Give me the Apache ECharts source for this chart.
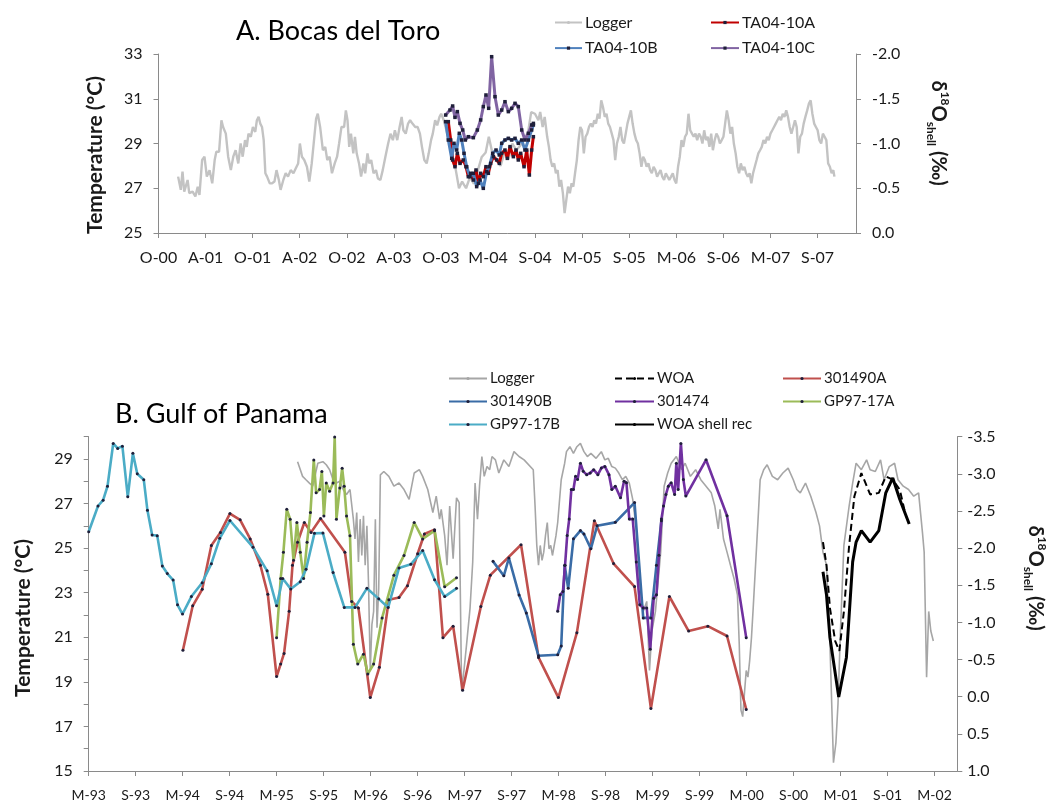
<!DOCTYPE html>
<html>
<head>
<meta charset="utf-8">
<title>Bocas del Toro / Gulf of Panama</title>
<script src="https://cdn.jsdelivr.net/npm/echarts@6/dist/echarts.min.js"></script>
<style>
  html, body { margin: 0; padding: 0; background: #fff; }
  #chart { width: 1047px; height: 802px; }
</style>
</head>
<body>
<div id="chart"></div>
<script>
// ---------- Panel A: Bocas del Toro ----------
// x values are months since Oct 2000; logger in °C, shells in ‰ (right axis)
const labelsA = ['O-00','A-01','O-01','A-02','O-02','A-03','O-03','M-04','S-04','M-05','S-05','M-06','S-06','M-07','S-07'];

const loggerA = [
  [2.5,27.52],[2.84,26.93],[3.06,27.74],[3.28,26.85],[3.71,27.37],[3.92,26.78],[4.35,26.85],[4.7,26.63],[5.0,27.07],[5.22,26.7],
  [5.56,28.26],[5.86,28.41],[6.16,27.52],[6.51,27.81],[6.85,27.22],[7.16,28.26],[7.37,28.63],[7.72,28.63],[8.02,30.04],[8.23,29.74],
  [8.58,29.44],[8.88,28.41],[9.22,27.81],[9.53,28.41],[9.83,28.7],[10.17,28.11],[10.47,29.0],[10.73,28.41],[11.03,29.15],[11.25,28.85],
  [11.47,29.44],[11.77,29.3],[12.03,29.74],[12.33,29.52],[12.54,30.04],[12.76,30.19],[12.97,29.89],[13.19,29.74],[13.41,29.15],[13.62,27.67],
  [13.84,27.52],[14.18,27.22],[14.48,27.22],[14.78,27.3],[15.04,27.81],[15.34,27.37],[15.56,26.93],[15.91,27.37],[16.21,27.67],[16.51,27.52],
  [16.85,27.81],[17.2,27.67],[17.5,27.89],[17.8,28.11],[18.02,29.0],[18.28,28.41],[18.58,28.26],[18.92,27.96],[19.22,27.3],[19.53,28.11],
  [19.78,29.0],[20.09,30.11],[20.3,30.33],[20.6,29.74],[20.95,28.7],[21.25,28.85],[21.51,28.26],[21.81,28.41],[22.11,27.67],[22.46,28.11],
  [22.76,28.41],[23.02,29.0],[23.32,29.74],[23.66,29.74],[23.88,30.48],[24.09,30.04],[24.31,28.85],[24.53,29.44],[24.83,28.56],[25.04,29.3],
  [25.26,28.56],[25.56,28.11],[25.82,27.52],[26.12,28.11],[26.34,27.67],[26.64,28.56],[26.85,28.11],[27.11,28.26],[27.41,27.67],[27.72,27.81],
  [27.97,27.44],[28.28,27.37],[28.58,27.81],[28.92,28.41],[29.27,29.0],[29.57,29.44],[29.87,29.15],[30.13,29.59],[30.43,29.15],[30.73,29.74],
  [30.99,30.19],[31.21,29.59],[31.51,29.44],[31.81,29.89],[32.07,30.04],[32.37,29.89],[32.72,29.74],[33.02,29.74],[33.32,29.44],[33.58,28.85],
  [33.88,28.26],[34.18,28.11],[34.44,28.56],[34.74,29.15],[34.96,29.44],[35.26,30.04],[35.52,29.81],[35.82,30.19],[36.03,30.33],[36.4,30.0],
  [36.9,29.3],[37.4,28.6],[37.9,27.8],[38.3,27.0],[38.7,27.3],[39.2,27.0],[39.7,27.5],[40.2,27.2],[40.7,27.8],[41.2,28.4],
  [41.7,28.6],[42.1,29.3],[42.6,28.5],[43.1,28.3],[43.6,28.0],[44.1,28.6],[44.6,28.3],[45.1,29.0],[45.6,28.7],[46.1,28.9],
  [46.6,29.2],[47.1,29.5],[47.5,30.4],[47.98,30.33],[48.42,30.04],[48.65,30.41],[48.96,29.74],[49.22,30.19],[49.54,29.3],[49.76,28.85],
  [49.98,28.26],[50.2,27.96],[50.43,28.11],[50.65,27.67],[50.87,27.81],[51.09,27.07],[51.31,27.37],[51.54,26.78],[51.76,25.89],[51.98,26.48],
  [52.2,27.07],[52.43,26.78],[52.65,27.22],[52.87,27.07],[53.09,27.67],[53.32,28.26],[53.54,29.15],[53.76,29.74],[53.98,29.59],[54.21,28.56],
  [54.43,29.3],[54.65,29.44],[54.87,29.74],[55.1,29.89],[55.32,29.74],[55.54,30.04],[55.76,29.89],[55.99,30.33],[56.21,30.11],[56.43,30.93],
  [56.65,30.63],[56.88,30.19],[57.1,30.33],[57.32,29.89],[57.54,29.74],[57.77,29.44],[57.99,29.15],[58.21,28.26],[58.43,29.0],[58.66,29.3],
  [58.88,29.74],[59.1,29.15],[59.32,29.0],[59.55,29.44],[59.77,29.89],[59.99,30.19],[60.21,30.48],[60.43,29.89],[60.66,29.44],[60.88,29.15],
  [61.1,29.0],[61.32,28.56],[61.55,27.96],[61.77,28.41],[61.99,28.26],[62.21,27.96],[62.44,28.11],[62.66,27.81],[62.88,27.67],[63.1,27.96],
  [63.33,27.81],[63.55,27.52],[63.77,27.67],[63.99,27.81],[64.21,27.52],[64.44,27.37],[64.66,27.67],[64.88,27.67],[65.1,27.37],[65.33,27.52],
  [65.55,27.67],[65.77,27.37],[65.99,27.22],[66.22,27.96],[66.44,28.41],[66.66,29.15],[66.88,28.85],[67.11,29.3],[67.33,29.44],[67.55,30.33],
  [67.77,29.59],[68.0,29.44],[68.22,29.3],[68.44,29.44],[68.66,29.15],[68.89,29.44],[69.11,29.3],[69.33,29.0],[69.55,29.59],[69.78,29.15],
  [70.0,29.3],[70.22,28.85],[70.44,29.44],[70.66,28.7],[70.89,29.15],[71.11,29.44],[71.33,29.3],[71.55,29.0],[71.78,29.15],[72.0,29.3],
  [72.22,29.89],[72.44,30.48],[72.67,30.04],[72.89,29.44],[73.11,29.74],[73.33,29.0],[73.56,28.56],[73.78,27.96],[74.0,27.67],[74.22,28.11],
  [74.45,27.81],[74.67,27.96],[74.89,27.67],[75.11,27.52],[75.34,27.67],[75.56,27.22],[75.78,27.67],[76.0,27.96],[76.23,28.26],[76.45,28.56],
  [76.67,28.7],[76.89,28.85],[77.11,29.15],[77.34,29.0],[77.56,29.3],[77.78,29.15],[78.0,29.44],[78.23,29.59],[78.45,29.74],[78.67,29.89],
  [78.89,30.04],[79.12,30.19],[79.34,30.04],[79.56,30.33],[79.78,30.19],[80.01,30.48],[80.23,30.19],[80.45,29.74],[80.67,29.44],[80.9,29.74],
  [81.12,30.04],[81.34,29.74],[81.56,28.56],[81.79,29.3],[82.01,29.44],[82.23,29.89],[82.45,30.19],[82.68,30.48],[82.9,30.78],[83.12,30.93],
  [83.34,30.33],[83.57,29.89],[83.79,29.74],[84.01,29.59],[84.23,29.15],[84.46,29.0],[84.68,29.44],[84.9,29.3],[85.12,29.15],[85.35,28.11],
  [85.57,27.96],[85.79,27.67],[86.01,27.81],[86.15,27.52]
];

const ta04_10A = [
  [36.94,-1.244],[37.24,-1.039],[37.49,-0.816],[37.79,-0.741],[38.09,-0.890],[38.43,-0.778],[38.85,-0.816],[39.19,-0.741],
  [39.49,-0.629],[39.79,-0.667],[40.13,-0.592],[40.47,-0.704],[40.77,-0.555],[41.06,-0.667],[41.4,-0.629],[41.74,-0.741],
  [42.04,-0.667],[42.34,-0.778],[42.68,-0.853],[43.1,-0.816],[43.44,-0.778],[43.74,-0.890],[44.16,-0.927],[44.46,-0.834],
  [44.8,-0.965],[45.23,-0.853],[45.57,-0.927],[45.86,-0.816],[46.16,-0.890],[46.59,-0.741],[46.93,-0.927],[47.27,-0.648],
  [47.56,-0.927],[47.78,-1.076]
];

const ta04_10B = [
  [36.6,-1.244],[36.94,-1.039],[37.37,-0.834],[37.66,-1.002],[38.0,-0.927],[38.34,-1.114],[38.64,-1.039],[38.94,-0.890],
  [39.28,-0.741],[39.7,-0.629],[40.13,-0.667],[40.55,-0.518],[40.98,-0.592],[41.4,-0.499],[41.83,-0.685],[42.17,-0.741],
  [42.59,-0.890],[43.02,-0.927],[43.44,-0.872],[43.74,-1.002],[44.16,-1.039],[44.59,-1.058],[45.01,-1.039],[45.44,-1.058],
  [45.86,-1.002],[46.29,-1.039],[46.71,-0.927],[47.14,-1.039],[47.56,-1.151],[47.78,-1.207]
];

const ta04_10C = [
  [36.6,-1.318],[37.15,-1.374],[37.49,-1.419],[37.79,-1.292],[38.09,-1.356],[38.43,-1.225],[38.77,-1.151],[39.11,-1.039],
  [39.49,-1.076],[40.13,-1.065],[40.64,-1.151],[41.06,-1.263],[41.4,-1.412],[41.74,-1.542],[42.08,-1.393],[42.46,-1.970],
  [42.89,-1.523],[43.31,-1.318],[43.74,-1.374],[44.16,-1.467],[44.59,-1.356],[45.01,-1.393],[45.44,-1.449],[45.86,-1.412],
  [46.29,-1.151],[46.71,-1.039],[47.14,-1.114],[47.56,-1.207],[47.78,-1.225]
];

// ---------- Panel B: Gulf of Panama ----------
// x values are months since Mar 1993
const labelsB = ['M-93','S-93','M-94','S-94','M-95','S-95','M-96','S-96','M-97','S-97','M-98','S-98','M-99','S-99','M-00','S-00','M-01','S-01','M-02'];

const loggerB = [
  [26.67,28.88],[27.31,28.22],[27.74,28.07],[28.18,27.92],[28.61,27.78],[29.25,28.81],[29.9,28.88],[30.33,28.74],[30.76,28.52],[31.2,28.07],
  [31.63,27.92],[32.06,28.0],[32.49,27.63],[32.92,27.41],[33.36,27.63],[33.79,26.3],[34.0,25.41],[34.22,26.6],[34.44,24.38],[34.66,26.3],
  [34.87,24.67],[35.08,26.45],[35.3,24.23],[35.52,26.0],[35.73,23.35],[35.95,19.51],[36.16,21.57],[36.38,22.16],[36.6,26.3],[36.81,21.43],
  [37.03,23.2],[37.24,28.29],[37.68,28.44],[38.32,28.22],[38.97,27.78],[39.62,27.92],[40.26,27.63],[40.91,27.19],[41.56,28.37],[42.21,28.52],
  [42.64,28.22],[43.29,27.63],[43.94,26.6],[44.37,27.33],[44.8,26.3],[45.01,26.74],[45.45,25.56],[45.75,24.23],[46.09,26.89],[46.53,24.53],
  [46.96,27.26],[47.3,27.04],[47.61,18.62],[47.91,19.51],[48.25,20.69],[48.69,22.31],[49.03,24.38],[49.33,27.92],[49.64,26.3],[49.9,27.78],
  [50.2,29.11],[50.5,28.22],[50.85,28.66],[51.2,28.52],[51.49,29.11],[51.93,28.96],[52.36,28.37],[53.0,28.96],[53.65,28.66],[54.3,29.33],
  [54.95,29.11],[55.59,28.96],[56.76,28.52],[56.99,26.89],[57.21,25.12],[57.43,24.23],[57.65,25.12],[57.88,24.45],[58.1,24.82],[58.32,25.56],
  [58.55,26.15],[58.77,24.97],[58.99,25.12],[59.21,24.67],[59.66,25.56],[59.88,26.15],[60.33,28.07],[60.77,28.81],[61.0,29.33],[61.44,29.55],
  [61.89,29.25],[62.33,29.55],[62.78,29.7],[63.23,29.33],[63.67,29.11],[64.12,29.25],[64.78,29.03],[65.45,29.33],[65.9,28.96],[66.34,29.03],
  [66.79,28.66],[67.24,28.59],[67.68,28.37],[68.13,28.07],[68.57,28.22],[69.02,27.92],[69.46,27.19],[69.91,25.86],[70.36,23.35],[70.8,22.16],
  [71.25,22.61],[71.6,19.51],[71.91,21.28],[72.36,22.16],[73.03,24.82],[73.47,27.78],[73.92,28.37],[74.37,28.81],[75.03,29.11],[75.7,28.52],
  [76.15,28.81],[76.82,28.22],[77.49,28.52],[78.15,28.07],[78.82,27.78],[79.49,27.48],[79.94,26.89],[80.38,25.86],[80.6,26.74],[81.05,25.41],
  [81.5,24.82],[81.94,24.23],[82.39,23.64],[82.83,22.9],[83.06,20.69],[83.28,17.73],[83.5,17.44],[83.72,18.47],[83.95,19.51],[84.17,19.21],
  [84.39,19.95],[84.62,20.98],[84.84,22.31],[85.28,25.12],[85.51,26.6],[85.73,28.07],[86.18,28.52],[86.62,28.74],[87.29,28.22],[87.96,28.07],
  [88.63,28.37],[89.3,28.59],[89.96,28.07],[90.41,27.63],[90.85,27.48],[91.52,27.92],[92.19,27.33],[92.86,26.6],[93.31,26.0],[93.75,24.82],
  [94.2,24.23],[94.64,20.69],[95.09,15.37],[95.4,16.26],[95.67,18.03],[95.98,21.28],[96.42,25.12],[97.09,26.89],[97.54,27.92],[97.98,28.81],
  [98.65,28.52],[99.32,28.96],[99.77,28.52],[100.43,28.44],[101.1,28.96],[101.55,28.07],[102.22,28.66],[102.89,28.81],[103.33,28.07],[104.0,27.78],
  [104.67,27.63],[105.34,27.33],[105.96,27.48],[106.45,25.71],[106.67,24.82],[106.98,19.21],[107.25,22.16],[107.52,21.28],[107.84,20.83]
];

const woa = [
  [93.75,25.27],[94.2,24.23],[94.64,22.31],[95.31,20.83],[95.84,20.39],[96.42,22.16],[97.09,25.12],[97.76,27.33],
  [98.65,28.37],[99.77,27.41],[100.88,27.48],[101.77,28.22],[102.66,28.07],[103.55,27.63],[104.22,26.6]
];

const s301490A = [
  [12.03,-0.626],[13.28,-1.224],[14.49,-1.446],[15.66,-2.035],[16.82,-2.212],[18.03,-2.465],[19.33,-2.381],[20.62,-2.124],
  [21.92,-1.769],[22.87,-1.379],[23.99,-0.272],[24.51,-0.440],[24.94,-0.582],[25.59,-1.149],[26.02,-1.769],[26.67,-2.079],
  [27.53,-2.345],[28.39,-2.212],[29.6,-2.398],[32.71,-1.946],[33.58,-1.282],[34.44,-1.193],[35.95,0.012],[37.11,-0.396],
  [38.32,-1.304],[39.62,-1.335],[40.7,-1.494],[42.0,-1.924],[42.86,-2.190],[44.16,-2.248],[45.23,-0.794],[46.53,-0.950],
  [47.74,-0.086],[50.07,-1.215],[51.28,-1.636],[55.2,-2.045],[57.43,-0.529],[59.97,0.012],[62.33,-0.862],[64.56,-2.369],
  [67.01,-1.793],[69.69,-1.482],[71.78,0.158],[74.14,-1.349],[76.6,-0.884],[79.05,-0.950],[81.5,-0.817],[83.95,0.171]
];

const s301490B = [
  [51.62,-1.822],[53.0,-1.627],[53.65,-1.867],[54.95,-1.370],[55.87,-1.128],[57.43,-0.551],[59.88,-0.565],[60.33,-0.684],
  [60.77,-1.770],[61.22,-1.460],[61.89,-2.125],[62.78,-2.236],[63.23,-2.191],[64.12,-1.992],[64.92,-2.302],[67.24,-2.347],
  [69.69,-2.613],[70.8,-1.061],[71.78,-1.061],[72.49,-1.770],[73.12,-2.369]
];

const s301474 = [
  [59.88,-1.150],[60.2,-1.371],[60.55,-1.416],[60.82,-1.770],[61.09,-2.169],[61.35,-2.391],[61.62,-2.790],[61.89,-2.790],
  [62.16,-2.967],[62.42,-2.923],[62.78,-3.144],[63.14,-3.034],[63.58,-2.989],[64.03,-3.011],[64.47,-3.056],[65.01,-2.989],
  [65.45,-3.078],[65.9,-3.100],[66.43,-2.989],[66.79,-2.790],[67.24,-2.834],[67.9,-2.679],[68.35,-2.901],[68.66,-2.879],
  [69.02,-2.391],[69.46,-2.391],[69.91,-1.815],[70.36,-1.238],[70.8,-1.194],[71.25,-1.194],[71.69,-0.640],[72.14,-1.327],
  [72.49,-1.371],[72.81,-1.903],[73.12,-2.391],[73.39,-2.568],[73.7,-2.723],[74.01,-2.834],[74.37,-2.879],[74.81,-2.723],
  [75.03,-3.144],[75.26,-2.790],[75.61,-3.410],[75.93,-2.923],[76.24,-2.701],[78.82,-3.189],[81.5,-2.435],[83.95,-0.795]
];

const gp97_17A = [
  [23.99,-0.794],[24.51,-1.592],[24.86,-1.946],[25.29,-2.522],[25.72,-2.389],[26.15,-1.836],[26.58,-2.345],[27.01,-1.946],
  [27.44,-1.592],[27.88,-2.079],[28.31,-2.478],[28.74,-3.187],[29.04,-2.744],[29.47,-2.788],[29.77,-3.032],[30.03,-2.434],
  [30.33,-2.877],[30.76,-2.766],[31.2,-2.877],[31.41,-3.497],[31.63,-2.389],[32.06,-2.810],[32.36,-3.076],[32.62,-2.833],
  [32.92,-2.434],[33.36,-2.168],[33.79,-0.706],[34.35,-0.440],[35.08,-0.573],[35.64,-0.307],[36.38,-0.440],[37.46,-1.060],
  [38.97,-1.636],[40.26,-1.902],[41.56,-2.345],[42.64,-2.124],[44.16,-2.234],[45.45,-1.481],[46.96,-1.601]
];

const gp97_17B = [
  [0.0,-2.221],[1.19,-2.567],[1.84,-2.646],[2.4,-2.833],[3.13,-3.409],[3.7,-3.342],[4.3,-3.373],[4.99,-2.691],
  [5.64,-3.276],[6.2,-3.001],[7.03,-2.921],[7.5,-2.509],[8.1,-2.177],[8.75,-2.168],[9.4,-1.760],[10.04,-1.658],
  [10.78,-1.570],[11.34,-1.237],[11.98,-1.113],[13.11,-1.348],[14.49,-1.534],[15.66,-1.791],[16.73,-2.132],[18.03,-2.372],
  [20.97,-2.013],[22.78,-1.694],[23.99,-1.224],[24.77,-1.592],[25.8,-1.450],[27.01,-1.548],[27.75,-1.716],[28.82,-2.199],
  [29.91,-2.203],[31.2,-1.672],[32.63,-1.202],[34.01,-1.202],[35.52,-1.459],[37.03,-1.317],[38.24,-1.202],[39.62,-1.734],
  [41.13,-1.782],[42.64,-1.969],[44.16,-1.574],[45.45,-1.348],[46.96,-1.459]
];

const woaShellRec = [
  [93.75,-1.682],[94.2,-1.371],[94.64,-0.795],[95.76,0.003],[96.74,-0.529],[97.54,-1.815],[97.98,-2.081],[98.65,-2.236],
  [99.77,-2.081],[100.88,-2.236],[101.77,-2.745],[102.66,-2.945],[103.55,-2.657],[104.76,-2.324]
];

// ---------- shared styling ----------
const FONT = 'Lato';
const TEXT = '#1a1a1a';
const AXIS = '#8a8a8a';
const MARK = '#1f1f3a';

const tickPos = (labels) => labels.map((_, i) => i * 6);

function xAxisCfg(gridIndex, labels, max, fontSize, margin) {
  const ticks = tickPos(labels);
  return {
    type: 'value', gridIndex, min: 0, max,
    axisLine: { onZero: false, lineStyle: { color: AXIS, width: 1 } },
    axisTick: { show: true, length: 5, customValues: ticks, lineStyle: { color: AXIS } },
    axisLabel: {
      customValues: ticks, margin,
      formatter: v => labels[Math.round(v / 6)] || '',
      fontFamily: FONT, fontSize, color: TEXT
    },
    splitLine: { show: false }
  };
}

function lineSeries(name, data, xi, yi, color, width, extra) {
  return Object.assign({
    name, type: 'line', data, xAxisIndex: xi, yAxisIndex: yi,
    symbol: 'circle', symbolSize: 3, showSymbol: true,
    lineStyle: { color, width },
    itemStyle: { color: MARK },
    emphasis: { disabled: true },
    animation: false, z: 2
  }, extra || {});
}

const deltaRich = {
  d: { fontFamily: FONT, fontWeight: 'bold', fontSize: 20, fill: TEXT, lineHeight: 26, verticalAlign: 'middle' },
  s: { fontFamily: FONT, fontWeight: 'bold', fontSize: 12, fill: TEXT, lineHeight: 26, verticalAlign: 'top' },
  b: { fontFamily: FONT, fontWeight: 'bold', fontSize: 12, fill: TEXT, lineHeight: 26, verticalAlign: 'bottom' }
};

function axisTitle(x, y, rotation, text, rich) {
  return {
    type: 'text', x, y, rotation, silent: true,
    style: Object.assign({
      text, fill: TEXT, align: 'center', verticalAlign: 'middle',
      font: 'bold 21px ' + FONT
    }, rich ? { rich } : {})
  };
}

function legendCfg(left, top, names, fontSize, itemWidth, rowGap) {
  return {
    orient: 'vertical', left, top, padding: 0, data: names,
    itemWidth, itemHeight: 4, itemGap: rowGap - fontSize,
    selectedMode: false,
    formatter: n => n.trim(),
    textStyle: { fontFamily: FONT, fontSize, color: TEXT, lineHeight: fontSize, padding: [0, 0, 0, -2] }
  };
}

const chart = echarts.init(document.getElementById('chart'), null, { renderer: 'canvas' });

chart.setOption({
  backgroundColor: '#fff',
  animation: false,
  title: [
    { text: 'A. Bocas del Toro', left: 236, top: 18, padding: 0, textStyle: { fontFamily: FONT, fontSize: 27, fontWeight: 'normal', color: '#000' } },
    { text: 'B. Gulf of Panama', left: 115, top: 401, padding: 0, textStyle: { fontFamily: FONT, fontSize: 27, fontWeight: 'normal', color: '#000' } }
  ],
  legend: [
    legendCfg(554, 14.5, ['Logger', 'TA04-10B'], 16, 27, 25.6),
    legendCfg(710, 14.5, ['TA04-10A', 'TA04-10C'], 16, 28, 25.6),
    legendCfg(448, 371, ['Logger ', '301490B', 'GP97-17B'], 15, 38, 23),
    legendCfg(614, 371, ['WOA', '301474', 'WOA shell rec'], 15, 39, 23),
    legendCfg(782, 371, ['301490A', 'GP97-17A'], 15, 38, 23)
  ],
  grid: [
    { left: 158.5, width: 856 - 158.5, top: 54, height: 233 - 54 },
    { left: 88.7, width: 957.3 - 88.7, top: 436.7, height: 774 - 436.7 }
  ],
  xAxis: [
    xAxisCfg(0, labelsA, 88.9, 16, 17),
    xAxisCfg(1, labelsB, 110.9, 14, 17)
  ],
  yAxis: [
    { // Panel A temperature
      type: 'value', gridIndex: 0, min: 25, max: 33, position: 'left',
      axisLine: { show: true, lineStyle: { color: AXIS } },
      axisTick: { show: true, length: 5, customValues: [25, 27, 29, 31, 33], lineStyle: { color: AXIS } },
      axisLabel: { customValues: [25, 27, 29, 31, 33], margin: 16, fontFamily: FONT, fontSize: 16, color: TEXT },
      splitLine: { show: false }
    },
    { // Panel A shell δ18O (inverted)
      type: 'value', gridIndex: 0, min: -2, max: 0, interval: 0.5, inverse: true, position: 'right',
      axisLine: { show: true, lineStyle: { color: AXIS } },
      axisTick: { show: true, length: 5, lineStyle: { color: AXIS } },
      axisLabel: { margin: 16, formatter: v => v.toFixed(1), fontFamily: FONT, fontSize: 16, color: TEXT },
      splitLine: { show: false }
    },
    { // Panel B temperature
      type: 'value', gridIndex: 1, min: 15, max: 30, position: 'left',
      axisLine: { show: true, lineStyle: { color: AXIS } },
      axisTick: { show: true, length: 5, customValues: [15,16,17,18,19,20,21,22,23,24,25,26,27,28,29,30], lineStyle: { color: AXIS } },
      axisLabel: { customValues: [15, 17, 19, 21, 23, 25, 27, 29], margin: 16, fontFamily: FONT, fontSize: 16, color: TEXT },
      splitLine: { show: false }
    },
    { // Panel B shell δ18O (inverted)
      type: 'value', gridIndex: 1, min: -3.5, max: 1.0, interval: 0.5, inverse: true, position: 'right',
      axisLine: { show: true, lineStyle: { color: AXIS } },
      axisTick: { show: true, length: 5, lineStyle: { color: AXIS } },
      axisLabel: { margin: 10, formatter: v => v.toFixed(1), fontFamily: FONT, fontSize: 16, color: TEXT },
      splitLine: { show: false }
    }
  ],
  graphic: [
    axisTitle(95, 155, Math.PI / 2, 'Temperature (°C)'),
    axisTitle(938, 133, -Math.PI / 2, '{d|δ}{s|18}{d|O}{b|shell}{d| (‰)}', deltaRich),
    axisTitle(23, 618, Math.PI / 2, 'Temperature (°C)'),
    axisTitle(1035, 578, -Math.PI / 2, '{d|δ}{s|18}{d|O}{b|shell}{d| (‰)}', deltaRich)
  ],
  series: [
    // Panel A
    lineSeries('Logger', loggerA, 0, 0, '#c3c3c3', 2.4, { symbol: 'none', itemStyle: { color: '#c3c3c3' }, z: 1 }),
    lineSeries('TA04-10A', ta04_10A, 0, 1, '#c00000', 3, { symbol: 'rect', symbolSize: 3.5 }),
    lineSeries('TA04-10B', ta04_10B, 0, 1, '#4f81bd', 3, { symbol: 'rect', symbolSize: 3.5 }),
    lineSeries('TA04-10C', ta04_10C, 0, 1, '#8064a2', 3, { symbol: 'rect', symbolSize: 3.5 }),
    // Panel B
    lineSeries('Logger ', loggerB, 1, 2, '#a6a6a6', 1.6, { symbol: 'none', itemStyle: { color: '#a6a6a6' }, z: 1 }),
    lineSeries('WOA', woa, 1, 2, '#000000', 2, { symbol: 'none', itemStyle: { color: '#000' }, lineStyle: { color: '#000', width: 2, type: [7, 4] } }),
    lineSeries('301490A', s301490A, 1, 3, '#c0504d', 2.6),
    lineSeries('301490B', s301490B, 1, 3, '#3a6ca6', 2.6),
    lineSeries('301474', s301474, 1, 3, '#7030a0', 2.6),
    lineSeries('GP97-17A', gp97_17A, 1, 3, '#9bbb59', 2.6),
    lineSeries('GP97-17B', gp97_17B, 1, 3, '#4bacc6', 2.6),
    lineSeries('WOA shell rec', woaShellRec, 1, 3, '#000000', 3, { symbol: 'none', itemStyle: { color: '#000' } })
  ]
});
</script>
</body>
</html>
